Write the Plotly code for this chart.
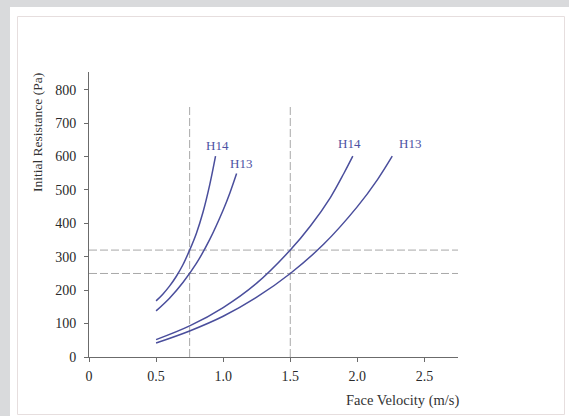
import plotly.graph_objects as go

# ---- data ----
h14_left_v = [0.5, 0.55, 0.6, 0.65, 0.7, 0.75, 0.8, 0.85, 0.9, 0.943]
h14_left_p = [168, 188, 212, 241, 276, 320, 370, 434, 516, 601]

h13_left_v = [0.5, 0.6, 0.7, 0.8, 0.9, 1.0, 1.05, 1.10]
h13_left_p = [138, 176, 223, 280, 352, 440, 491, 549]

h14_right_v = [0.5, 0.75, 1.0, 1.25, 1.5, 1.65, 1.8, 1.9, 1.966]
h14_right_p = [52, 93, 148, 221, 320, 392, 478, 550, 601]

h13_right_v = [0.5, 0.75, 1.0, 1.25, 1.5, 1.75, 2.0, 2.15, 2.26]
h13_right_p = [42, 78, 122, 179, 250, 338, 450, 531, 601]

ref_velocities = [0.75, 1.5]
ref_velocity_top = 755
ref_resistances = [320, 250]

labels = ["H14", "H13", "H14", "H13"]
label_v = [0.955, 1.135, 1.945, 2.39]
label_p = [634, 580, 640, 640]

x_ticks = [0, 0.5, 1.0, 1.5, 2.0, 2.5]
x_tick_text = ["0", "0.5", "1.0", "1.5", "2.0", "2.5"]
y_ticks = [0, 100, 200, 300, 400, 500, 600, 700, 800]

X_RANGE = [0, 2.75]
Y_RANGE = [0, 853]

# ---- figure ----
W, H = 569, 416
ML, MR, MT, MB = 89, 111, 72, 59
PW, PH = W - ML - MR, H - MT - MB

def px2paper_x(px):
    return (px - ML) / PW

def px2paper_y(py):
    return (H - MB - py) / PH

CURVE = "#4a4e9c"
DASH = "#a8a8a8"
FONT = "Liberation Serif"

fig = go.Figure()

# reference dashed lines
for v in ref_velocities:
    fig.add_trace(go.Scatter(x=[v, v], y=[0, ref_velocity_top], mode="lines",
                             line=dict(color=DASH, width=1, dash="8px,3px"),
                             hoverinfo="skip", showlegend=False))
for p in ref_resistances:
    fig.add_trace(go.Scatter(x=X_RANGE, y=[p, p], mode="lines",
                             line=dict(color=DASH, width=1, dash="8px,3px"),
                             hoverinfo="skip", showlegend=False))

for xs, ys in [(h14_left_v, h14_left_p), (h13_left_v, h13_left_p),
               (h14_right_v, h14_right_p), (h13_right_v, h13_right_p)]:
    fig.add_trace(go.Scatter(x=xs, y=ys, mode="lines",
                             line=dict(color=CURVE, width=1.5, shape="spline", smoothing=1.0),
                             showlegend=False))

for t, xv, yv in zip(labels, label_v, label_p):
    fig.add_annotation(x=xv, y=yv, text=t, showarrow=False,
                       font=dict(family=FONT, size=13, color="#4d52a3"))

# axis titles
fig.add_annotation(xref="paper", yref="paper", x=px2paper_x(37), y=px2paper_y(133),
                   xanchor="center", yanchor="middle",
                   text="Initial Resistance (Pa)", textangle=-90, showarrow=False,
                   font=dict(family=FONT, size=13.5, color="#333333"))
fig.add_annotation(xref="paper", yref="paper", x=px2paper_x(461), y=px2paper_y(400),
                   xanchor="right", yanchor="middle", text="Face Velocity (m/s)", showarrow=False,
                   font=dict(family=FONT, size=14.5, color="#333333"))

# page frame
fig.add_shape(type="rect", xref="paper", yref="paper", layer="below",
              x0=px2paper_x(10), x1=px2paper_x(575), y0=px2paper_y(7), y1=px2paper_y(420),
              fillcolor="white", line=dict(width=0))
fig.add_shape(type="rect", xref="paper", yref="paper", layer="below",
              x0=px2paper_x(17.5), x1=px2paper_x(564.5), y0=px2paper_y(16.5), y1=px2paper_y(414.5),
              fillcolor="rgba(0,0,0,0)", line=dict(width=1, color="#e6dede"))

fig.update_layout(
    width=W, height=H,
    margin=dict(l=ML, r=MR, t=MT, b=MB),
    paper_bgcolor="#d9dadc", plot_bgcolor="white",
    font=dict(family=FONT, size=12, color="#333333"),
    xaxis=dict(range=X_RANGE, tickvals=x_ticks, ticktext=x_tick_text,
               showgrid=False, zeroline=False, showline=True, linecolor="#6b6b6b",
               linewidth=1, ticks="outside", ticklen=4, tickcolor="#6b6b6b",
               ticklabelstandoff=2,
               tickfont=dict(family=FONT, size=14, color="#2a2a2a")),
    yaxis=dict(range=Y_RANGE, tickvals=y_ticks,
               showgrid=False, zeroline=False, showline=True, linecolor="#6b6b6b",
               linewidth=1, ticks="outside", ticklen=4, tickcolor="#6b6b6b",
               ticklabelstandoff=5,
               tickfont=dict(family=FONT, size=14, color="#2a2a2a")),
)

fig.write_html("out.html", config={"displayModeBar": False},
               post_script="document.body.style.margin='0';")
